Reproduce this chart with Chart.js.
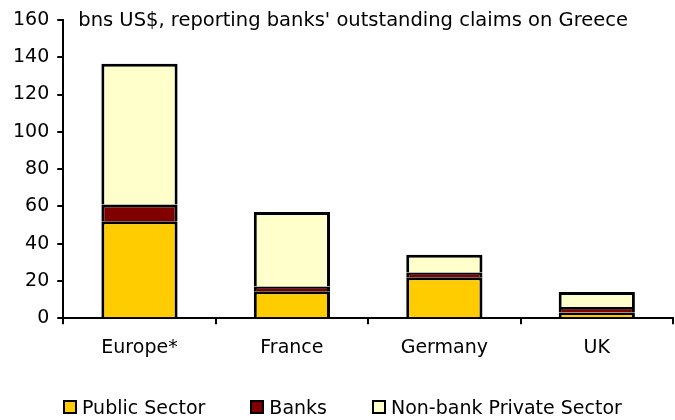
<!DOCTYPE html>
<html>
<head>
<meta charset="utf-8">
<script src="https://cdn.jsdelivr.net/npm/chart.js@4"></script>
<style>
  body { margin: 0; background: #fff; }
  #wrap { width: 675px; height: 420px; position: relative; }
  #legend {
    position: absolute; left: 63px; top: 396px;
    display: flex; font: 19px "DejaVu Sans"; color: #000; line-height: 22px;
  }
  #legend .item { display: flex; align-items: center; margin-right: 45px; }
  #legend .box { width: 10px; height: 10px; border: 2px solid #000; margin-right: 5px; }
</style>
</head>
<body>
<div id="wrap">
  <canvas id="claimsChart"></canvas>
  <div id="legend"></div>
</div>
<script>
const countries = ["Europe*", "France", "Germany", "UK"];
const publicSector = [52, 14.5, 22, 3];
const banks = [9, 2.5, 2.5, 3];
const nonBankPrivate = [75.5, 40, 9.5, 8];
const yTicks = [0, 20, 40, 60, 80, 100, 120, 140, 160];
const note = "bns US$, reporting banks' outstanding claims on Greece";

const font = { family: "DejaVu Sans", size: 19 };

// note text sits inside the plot area, top left
const notePlugin = {
  id: "note",
  afterDraw(chart) {
    const ctx = chart.ctx;
    ctx.save();
    ctx.font = "19.5px 'DejaVu Sans'";
    ctx.fillStyle = "#000";
    ctx.textBaseline = "middle";
    ctx.fillText(note, chart.chartArea.left + 15, chart.chartArea.top + 1);
    ctx.restore();
  }
};

const chart = new Chart(document.getElementById("claimsChart"), {
  type: "bar",
  data: {
    labels: countries,
    datasets: [
      { label: "Public Sector", data: publicSector, backgroundColor: "#ffcc00" },
      { label: "Banks", data: banks, backgroundColor: "#800000" },
      { label: "Non-bank Private Sector", data: nonBankPrivate, backgroundColor: "#ffffcc" }
    ].map(d => Object.assign(d, {
      borderColor: "#000",
      borderWidth: { top: 3, left: 3, right: 3, bottom: 0 },
      borderSkipped: false,
      inflateAmount: 0,
      barPercentage: 0.5,
      categoryPercentage: 1
    }))
  },
  options: {
    responsive: true,
    maintainAspectRatio: false,
    animation: false,
    layout: { padding: { top: 20, right: 2, left: 5, bottom: 49 } },
    scales: {
      x: {
        stacked: true,
        grid: { display: true, drawOnChartArea: false, offset: true, color: "#000", lineWidth: 2, tickLength: 6 },
        border: { color: "#000", width: 2 },
        ticks: { color: "#000", font: font, padding: 12 }
      },
      y: {
        stacked: true,
        min: 0,
        max: 160,
        afterBuildTicks: axis => { axis.ticks = yTicks.map(v => ({ value: v })); },
        grid: { display: true, drawOnChartArea: false, color: "#000", lineWidth: 2, tickLength: 6 },
        border: { color: "#000", width: 2 },
        ticks: { color: "#000", font: font, padding: 8 }
      }
    },
    plugins: {
      tooltip: { enabled: false },
      legend: { display: false }
    }
  },
  plugins: [notePlugin]
});

// html legend built from the datasets
const legend = document.getElementById("legend");
chart.data.datasets.forEach(ds => {
  const item = document.createElement("div");
  item.className = "item";
  const box = document.createElement("span");
  box.className = "box";
  box.style.background = ds.backgroundColor;
  item.appendChild(box);
  item.appendChild(document.createTextNode(ds.label));
  legend.appendChild(item);
});
</script>
</body>
</html>
